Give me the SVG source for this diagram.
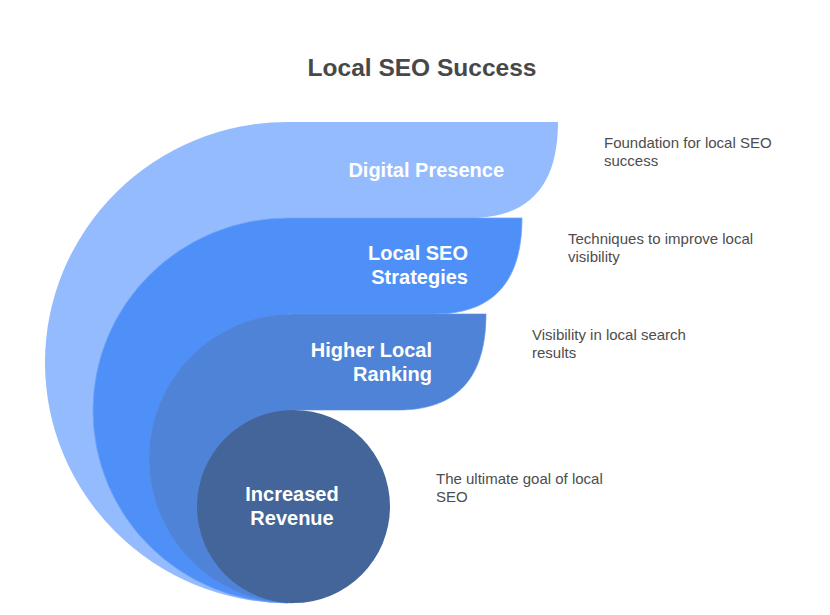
<svg xmlns="http://www.w3.org/2000/svg" width="830" height="615" viewBox="0 0 830 615">
  <style>
    .title { font-family: "Liberation Sans", Arial, sans-serif; font-weight: bold; font-size: 24.5px; fill: #484848; text-anchor: middle; }
    .lbl { font-family: "Liberation Sans", Arial, sans-serif; font-weight: bold; font-size: 20px; fill: #FFFFFF; text-anchor: end; }
    .lblc { text-anchor: middle; }
    .desc { font-family: "Liberation Sans", Arial, sans-serif; font-size: 15px; fill: #4D4D4D; }
  </style>
  <rect width="830" height="615" fill="#FFFFFF"/>
  <text class="title" x="422" y="76">Local SEO Success</text>

  <g id="digital-presence">
    <path d="M 288 603 A 243 240.5 0 0 1 288 122 H 558 C 558 185 530 218 470 218 H 288 Z" fill="#94BBFD"/>
    <text class="lbl" x="504" y="177">Digital Presence</text>
    <text class="desc" x="604" y="148">Foundation for local SEO</text>
    <text class="desc" x="604" y="166">success</text>
  </g>

  <g id="local-seo-strategies">
    <path d="M 288 603 A 195 192.5 0 0 1 288 218 H 522 C 522 281 494 314 434 314 H 288 Z" fill="#4F8FF8" stroke="#6FA3F7" stroke-width="0.8"/>
    <text class="lbl" x="468" y="260">Local SEO</text>
    <text class="lbl" x="468" y="284">Strategies</text>
    <text class="desc" x="568" y="244">Techniques to improve local</text>
    <text class="desc" x="568" y="262">visibility</text>
  </g>

  <g id="higher-local-ranking">
    <path d="M 293 603 A 144 144.5 0 0 1 293 314 H 486 C 486 377 458 410 398 410 H 293 Z" fill="#4F83D7" stroke="#5A8DDF" stroke-width="0.6"/>
    <text class="lbl" x="432" y="357">Higher Local</text>
    <text class="lbl" x="432" y="381">Ranking</text>
    <text class="desc" x="532" y="340">Visibility in local search</text>
    <text class="desc" x="532" y="358">results</text>
  </g>

  <g id="increased-revenue">
    <circle cx="293.5" cy="506.5" r="96.5" fill="#436599"/>
    <text class="lbl lblc" x="292" y="501">Increased</text>
    <text class="lbl lblc" x="292" y="525">Revenue</text>
    <text class="desc" x="436" y="484">The ultimate goal of local</text>
    <text class="desc" x="436" y="502">SEO</text>
  </g>
</svg>
